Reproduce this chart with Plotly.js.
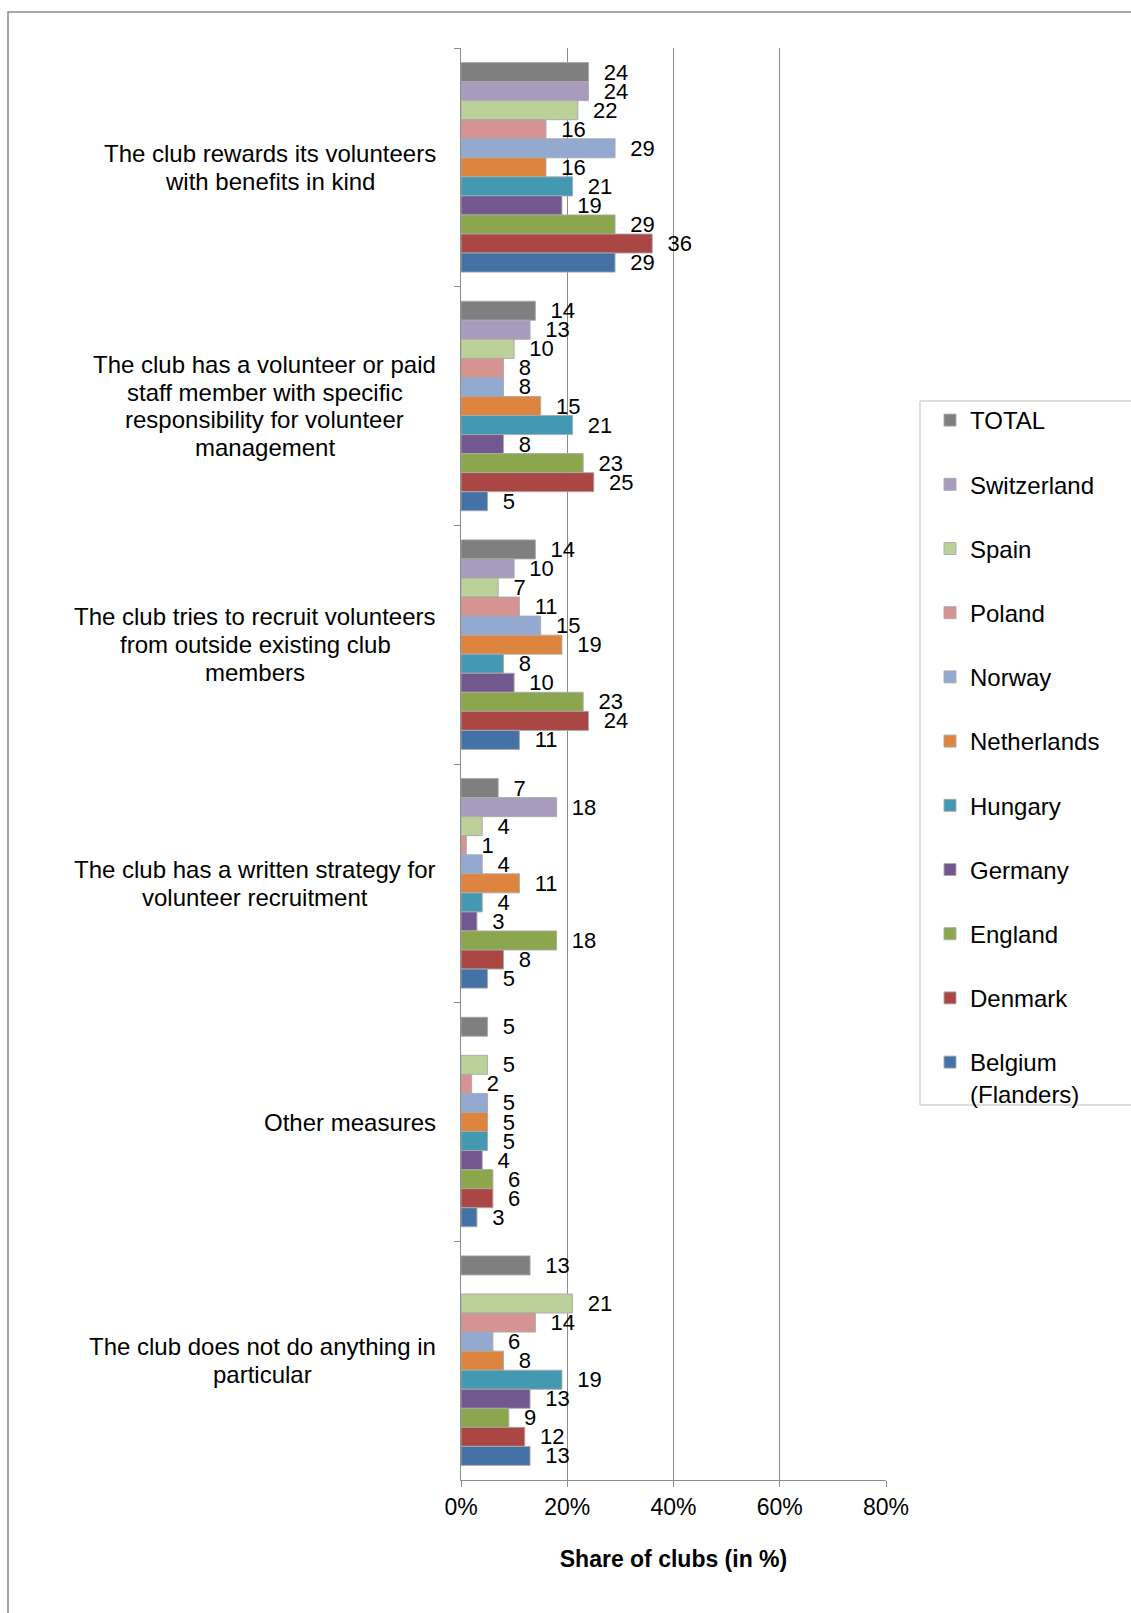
<!DOCTYPE html>
<html><head><meta charset="utf-8">
<script src="https://cdn.plot.ly/plotly-3.0.1.min.js"></script>
<style>body{margin:0;background:#fff}#chart{width:1131px;height:1613px}</style>
</head><body><div id="chart"></div>
<script>
// ---- data ----
const categoryLines = [
  ["The club rewards its volunteers", "with benefits in kind"],
  ["The club has a volunteer or paid", "staff member with specific", "responsibility for volunteer", "management"],
  ["The club tries to recruit volunteers", "from outside existing club", "members"],
  ["The club has a written strategy for", "volunteer recruitment"],
  ["Other measures"],
  ["The club does not do anything in", "particular"]
];
const categories = categoryLines.map(l => l.join(" "));

const seriesNames = ["TOTAL", "Switzerland", "Spain", "Poland", "Norway", "Netherlands",
  "Hungary", "Germany", "England", "Denmark", "Belgium<br>(Flanders)"];

const total       = [24, 14, 14, 7, 5, 13];
const switzerland = [24, 13, 10, 18, null, null];
const spain       = [22, 10, 7, 4, 5, 21];
const poland      = [16, 8, 11, 1, 2, 14];
const norway      = [29, 8, 15, 4, 5, 6];
const netherlands = [16, 15, 19, 11, 5, 8];
const hungary     = [21, 21, 8, 4, 5, 19];
const germany     = [19, 8, 10, 3, 4, 13];
const england     = [29, 23, 23, 18, 6, 9];
const denmark     = [36, 25, 24, 8, 6, 12];
const belgium     = [29, 5, 11, 5, 3, 13];

const xTickVals = [0, 20, 40, 60, 80];
const xTickText = ["0%", "20%", "40%", "60%", "80%"];
const xTitle = "Share of clubs (in %)";

// ---- styling ----
const seriesValues = [total, switzerland, spain, poland, norway, netherlands, hungary, germany, england, denmark, belgium];
const colors = ["#7f7f7f", "#a99bbd", "#bcd199", "#d59391", "#93a9d0", "#dd843e",
  "#4399b1", "#72588f", "#8ba64c", "#aa4644", "#4472a6"];
const FONT = '"Liberation Sans", Arial, sans-serif';

// pixel geometry
const W = 1131, H = 1613;
const L = 461, R = 886, T = 48, B = 1480;
const px2x = p => (p - L) / (R - L);
const px2y = p => (B - p) / (B - T);

const traces = seriesNames.map((name, i) => ({
  type: "bar",
  orientation: "h",
  name: name,
  legendgroup: "g" + i,
  y: categories,
  x: seriesValues[i],
  text: seriesValues[i].map(v => v == null ? "" : "\u00a0\u00a0" + v),
  texttemplate: "%{text}",
  textposition: "outside",
  constraintext: "none",
  cliponaxis: false,
  textfont: { family: FONT, size: 22, color: "#000" },
  marker: { color: colors[i], line: { color: "rgba(170,170,170,0.9)", width: 1 } },
  hoverinfo: "x+name"
}));

// category labels, each line centered within a right-aligned block
const canvas = document.createElement("canvas");
const ctx = canvas.getContext("2d");
const CAT_FONT = 24;
ctx.font = CAT_FONT + "px 'Liberation Sans'";
const LINE_H = 27.7, BLOCK_RIGHT = 436;
const annotations = [];
categoryLines.forEach((lines, i) => {
  const maxW = Math.max(...lines.map(s => ctx.measureText(s).width));
  const cx = BLOCK_RIGHT - maxW / 2;
  lines.forEach((s, k) => {
    annotations.push({
      xref: "paper", x: px2x(cx), xanchor: "center",
      yref: "y", y: categories[i], yanchor: "middle",
      yshift: ((lines.length - 1) / 2 - k) * LINE_H,
      text: s, showarrow: false,
      font: { family: FONT, size: CAT_FONT, color: "#000" }
    });
  });
});

const shapes = [
  // outer frame
  { type: "rect", xref: "paper", yref: "paper",
    x0: px2x(8), x1: px2x(W + 20), y0: px2y(12), y1: px2y(H + 20),
    line: { color: "#8a8a8a", width: 1.5 }, fillcolor: "rgba(0,0,0,0)", layer: "below" },
  // legend box
  { type: "rect", xref: "paper", yref: "paper",
    x0: px2x(920), x1: px2x(W + 20), y0: px2y(401), y1: px2y(1105),
    line: { color: "#bdbdbd", width: 1 }, fillcolor: "rgba(0,0,0,0)", layer: "below" }
];

const layout = {
  width: W, height: H,
  margin: { l: L, r: W - R, t: T, b: H - B, autoexpand: false },
  paper_bgcolor: "#fff", plot_bgcolor: "#fff",
  font: { family: FONT, color: "#000" },
  barmode: "group", bargap: 0.122, bargroupgap: 0,
  showlegend: true,
  legend: {
    x: px2x(930), xanchor: "left", y: px2y(398), yanchor: "top",
    traceorder: "grouped", tracegroupgap: 30,
    font: { family: FONT, size: 24, color: "#000" },
    bgcolor: "rgba(0,0,0,0)", borderwidth: 0, valign: "top"
  },
  xaxis: {
    range: [0, 80], tickvals: xTickVals, ticktext: xTickText,
    showgrid: true, gridcolor: "#8c8c8c", gridwidth: 1,
    showline: true, linecolor: "#8c8c8c", linewidth: 1,
    ticks: "outside", ticklen: 6, tickcolor: "#8c8c8c",
    zeroline: false,
    tickfont: { family: FONT, size: 23, color: "#000" },
    title: { text: "<b>" + xTitle + "</b>", font: { family: FONT, size: 23, color: "#000" }, standoff: 32 }
  },
  yaxis: {
    type: "category", categoryorder: "array", categoryarray: categories,
    range: [categories.length - 0.5, -0.5],
    showticklabels: false, showgrid: false,
    showline: true, linecolor: "#8c8c8c", linewidth: 1,
    ticks: "outside", tickson: "boundaries", ticklen: 6, tickcolor: "#8c8c8c",
    zeroline: false
  },
  annotations: annotations,
  shapes: shapes
};

Plotly.newPlot("chart", traces, layout, { displayModeBar: false, staticPlot: true });
</script>
</body></html>
